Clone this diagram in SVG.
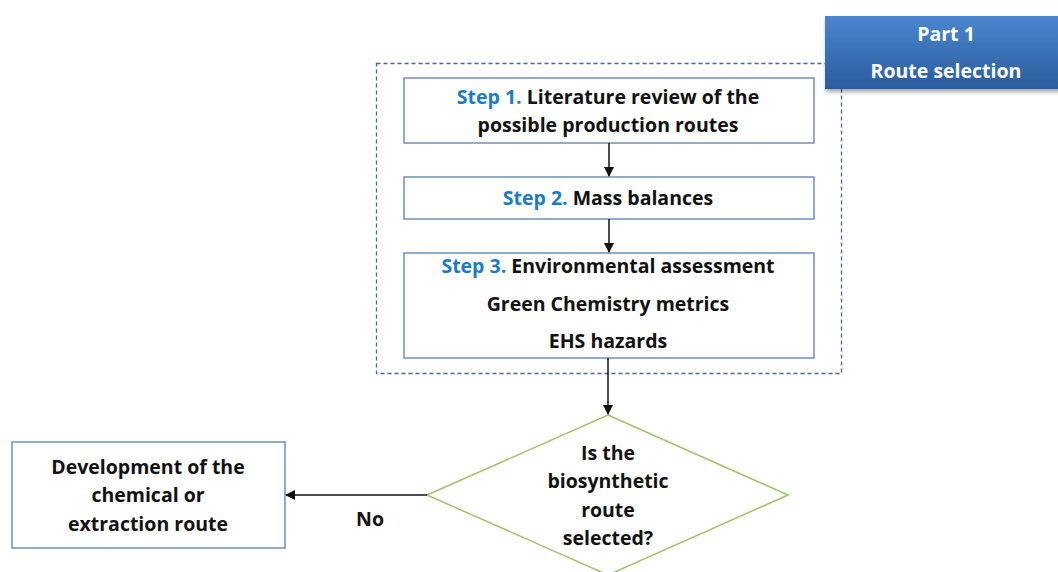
<svg xmlns="http://www.w3.org/2000/svg" width="1058" height="572" viewBox="0 0 1058 572">
<style>
.box{fill:#fff;stroke:#6f8fbc;stroke-width:1.5}
.t{font-family:"Open Sans",Lato,"Liberation Sans",sans-serif;font-weight:bold;font-size:19.5px;fill:#111;text-anchor:middle}
.s{fill:#1b7bc4}
.w{fill:#fff}
.c{stroke:#111;stroke-width:1.5;fill:none;marker-end:url(#ah)}
</style>
<defs>
<marker id="ah" markerWidth="10" markerHeight="10" refX="9" refY="5" orient="auto" markerUnits="userSpaceOnUse"><path d="M0,0 L10,5 L0,10 z" fill="#111"/></marker>
<linearGradient id="bg" x1="0" y1="0" x2="0" y2="1"><stop offset="0" stop-color="#4a86cf"/><stop offset="1" stop-color="#2b5c9c"/></linearGradient>
<filter id="sh" x="-10%" y="-10%" width="130%" height="140%"><feDropShadow dx="1" dy="3" stdDeviation="2" flood-color="#000" flood-opacity="0.35"/></filter>
</defs>
<rect id="frame" x="376.5" y="63.5" width="465" height="310" fill="none" stroke="#3f68a0" stroke-width="1.3" stroke-dasharray="4,3"/>
<g id="part1"><rect x="825" y="16" width="240" height="73" fill="url(#bg)" filter="url(#sh)"/>
<text class="t w" x="946" y="41">Part 1</text><text class="t w" x="946" y="78">Route selection</text></g>
<g id="step1"><rect class="box" x="404" y="78" width="410" height="65"/>
<text class="t" x="608" y="104"><tspan class="s">Step 1.</tspan> Literature review of the</text>
<text class="t" x="608" y="132">possible production routes</text></g>
<g id="step2"><rect class="box" x="404" y="177" width="410" height="42"/>
<text class="t" x="608" y="205"><tspan class="s">Step 2.</tspan> Mass balances</text></g>
<g id="step3"><rect class="box" x="404" y="253" width="410" height="105"/>
<text class="t" x="608" y="273"><tspan class="s">Step 3.</tspan> Environmental assessment</text>
<text class="t" x="608" y="311">Green Chemistry metrics</text>
<text class="t" x="608" y="348">EHS hazards</text></g>
<g id="decision"><polygon points="608,415 788,495 608,575 427,495" fill="#fff" stroke="#9cc46c" stroke-width="1.5"/>
<text class="t" x="608" y="460">Is the</text><text class="t" x="608" y="488">biosynthetic</text><text class="t" x="608" y="517">route</text><text class="t" x="608" y="545">selected?</text></g>
<g id="dev"><rect class="box" x="12" y="442" width="273" height="106"/>
<text class="t" x="148" y="474">Development of the</text><text class="t" x="148" y="502">chemical or</text><text class="t" x="148" y="531">extraction route</text></g>
<g id="connectors">
<path class="c" d="M609,143 L609,176"/>
<path class="c" d="M609,219 L609,252"/>
<path class="c" d="M608,358 L608,414"/>
<path class="c" d="M427,495 L286,495"/>
<text class="t" x="370" y="526">No</text>
</g>
</svg>
